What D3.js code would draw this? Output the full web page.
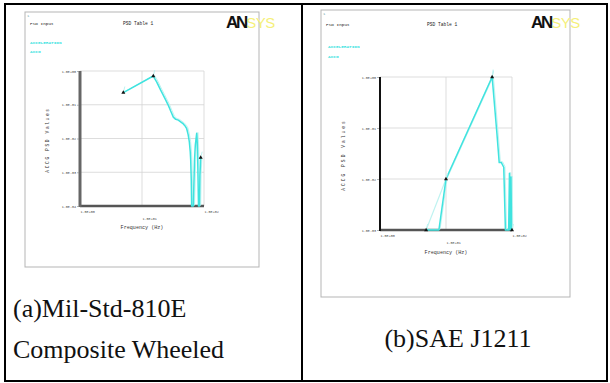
<!DOCTYPE html>
<html>
<head>
<meta charset="utf-8">
<script src="https://cdn.jsdelivr.net/npm/d3@7/dist/d3.min.js"></script>
<style>
  html, body { margin: 0; padding: 0; background: #fff; }
  svg { display: block; }
</style>
</head>
<body>
<svg id="chart" width="610" height="383"></svg>
<script>
// ---------- data ----------
const panelTitleLeft = "PSD Input";
const panelTitleRight = "PSD Table  1";
const legendLines = ["ACCELERATION", "ACCG"];
const xAxisTitle = "Frequency (Hz)";
const yAxisTitle = "ACCG PSD Values";
const xTickValues = [1, 10, 100];
const xTickLabels = ["1.0E+00", "1.0E+01", "1.0E+02"];
const yTickValuesA = [1, 0.1, 0.01, 0.001, 0.0001];
const yTickLabelsA = ["1.0E+00", "1.0E-01", "1.0E-02", "1.0E-03", "1.0E-04"];
const yTickValuesB = [1, 0.1, 0.01, 0.001];
const yTickLabelsB = ["1.0E+00", "1.0E-01", "1.0E-02", "1.0E-03"];
const captionA = ["(a)Mil-Std-810E", "Composite Wheeled"];
const captionB = ["(b)SAE J1211"];

// (a) Mil-Std-810E composite wheeled PSD curve
const milFreq = [5, 15.2, 17.3, 20, 22.1, 24.5, 26.6, 29, 32, 35, 38.5, 42, 46.4, 50, 52.6, 55.5, 58, 60, 61, 62.3, 63.2, 67.2, 69, 70.3, 72.5, 76.2, 77.5, 78.6, 80, 81.5, 84.6, 86, 88.5];
const milPsd  = [0.23, 0.71, 0.47, 0.27, 0.19, 0.13, 0.096, 0.065, 0.043, 0.037, 0.035, 0.031, 0.027, 0.023, 0.0195, 0.013, 0.0079, 0.004, 0.0023, 0.0006, 0.0001, 0.0001, 0.0006, 0.0023, 0.0065, 0.0143, 0.009, 0.0046, 0.0008, 0.0001, 0.0001, 0.0008, 0.0027];
const milMarkFreq = [5, 15.2, 88.5];
const milMarkPsd  = [0.23, 0.71, 0.0027];

// (b) SAE J1211 PSD curve
const saeFreq = [5, 7.8, 10, 50, 59, 64, 69, 75, 79.5, 89, 91.5, 93.5, 96.5, 98.5, 100];
const saePsd  = [0.001, 0.001, 0.01, 1.0, 0.08, 0.021, 0.021, 0.017, 0.001, 0.001, 0.013, 0.001, 0.011, 0.001, 0.001];
const saePaleFreq = [5, 10, 50, 52];
const saePalePsd  = [0.001, 0.01, 1.0, 1.4];
const saeMarkFreq = [5, 10, 50, 100];
const saeMarkPsd  = [0.001, 0.01, 1.0, 0.001];

// ---------- drawing ----------
const svg = d3.select("#chart");
const MONO = "'Liberation Mono', 'DejaVu Sans Mono', monospace";
const CYAN = "#3fe3df";
const PALE = "#bff3f1";

// table frame
svg.append("rect").attr("x", 5).attr("y", 4).attr("width", 602).attr("height", 377)
  .attr("fill", "none").attr("stroke", "#000").attr("stroke-width", 2);
svg.append("line").attr("x1", 302).attr("x2", 302).attr("y1", 4).attr("y2", 381)
  .attr("stroke", "#000").attr("stroke-width", 2);

function zip(a, b) { return a.map((d, i) => [d, b[i]]); }

function panel(cfg) {
  const g = svg.append("g");
  // image box
  g.append("rect").attr("x", cfg.box[0]).attr("y", cfg.box[1])
    .attr("width", cfg.box[2]).attr("height", cfg.box[3])
    .attr("fill", "#fff").attr("stroke", "#b5b5b5").attr("stroke-width", 1);

  g.append("text").attr("x", cfg.box[0] + 2).attr("y", cfg.box[1] + 5)
    .attr("font-family", MONO).attr("font-size", 4).attr("fill", "#7aa").text("1");
  g.append("text").attr("x", cfg.titleL[0]).attr("y", cfg.titleL[1])
    .attr("font-family", MONO).attr("font-size", 4.4).attr("fill", "#222").text(panelTitleLeft);
  g.append("text").attr("x", cfg.titleR[0]).attr("y", cfg.titleR[1])
    .attr("font-family", MONO).attr("font-size", 4.6).attr("fill", "#222").text(panelTitleRight);
  legendLines.forEach((t, i) => {
    g.append("text").attr("x", cfg.legend[0]).attr("y", cfg.legend[1] + i * cfg.legend[2])
      .attr("font-family", MONO).attr("font-size", 4.4).attr("font-weight", "bold")
      .attr("fill", CYAN).text(t);
  });
  // ANSYS logo
  const lg = g.append("text").attr("x", cfg.logo[0]).attr("y", cfg.logo[1])
    .attr("font-family", "'Liberation Sans', Arial, sans-serif").attr("font-weight", "bold")
    .attr("font-size", 17);
  lg.append("tspan").attr("fill", "#111").attr("letter-spacing", -2.2).text("AN");
  lg.append("tspan").attr("fill", "#f5f07a").attr("font-weight", "normal").attr("font-size", 15)
    .attr("letter-spacing", -0.5).text("SYS");

  const [px, py, pw, ph] = cfg.plot;
  const x = d3.scaleLog().domain([1, 100]).range([px, px + pw]);
  const y = d3.scaleLog().domain(cfg.yDomain).range([py + ph, py]);

  // grid + frame
  g.selectAll(".gy").data(cfg.yTicks).enter().append("line")
    .attr("x1", px).attr("x2", px + pw).attr("y1", d => y(d)).attr("y2", d => y(d))
    .attr("stroke", "#d4d4d4").attr("stroke-width", 0.8);
  g.selectAll(".gx").data(xTickValues).enter().append("line")
    .attr("x1", d => x(d)).attr("x2", d => x(d)).attr("y1", py).attr("y2", py + ph)
    .attr("stroke", "#d4d4d4").attr("stroke-width", 0.8);

  // axes lines
  g.append("line").attr("x1", px).attr("x2", px + pw).attr("y1", py + ph).attr("y2", py + ph)
    .attr("stroke", "#555").attr("stroke-width", 2.5);
  g.append("line").attr("x1", px).attr("x2", px).attr("y1", py).attr("y2", py + ph + 1)
    .attr("stroke", cfg.leftAxisColor).attr("stroke-width", cfg.leftAxisWidth);

  // y tick labels via d3 axis
  const yAxis = d3.axisLeft(y).tickValues(cfg.yTicks).tickSize(2)
    .tickFormat((d, i) => cfg.yLabels[i]);
  const ya = g.append("g").attr("transform", `translate(${px - 1},0)`).call(yAxis);
  ya.select(".domain").remove();
  ya.selectAll("line").attr("stroke", "#888").attr("stroke-width", 0.6);
  ya.selectAll("text").attr("font-family", MONO).attr("font-size", 3.4).attr("fill", "#444").attr("x", -3);

  // x tick labels via d3 axis
  const xAxis = d3.axisBottom(x).tickValues(xTickValues).tickSize(0)
    .tickFormat((d, i) => xTickLabels[i]);
  const xa = g.append("g").attr("transform", `translate(0,${py + ph})`).call(xAxis);
  xa.select(".domain").remove();
  xa.selectAll("text").attr("font-family", MONO).attr("font-size", 3.4).attr("fill", "#444")
    .attr("text-anchor", "start").attr("dy", null)
    .attr("y", (d, i) => i === 1 ? 14 : 7);

  g.append("text").attr("x", px + pw * 0.5).attr("y", py + ph + cfg.xTitleDy)
    .attr("text-anchor", "middle").attr("font-family", MONO).attr("font-size", 5.1)
    .attr("fill", "#333").text(xAxisTitle);
  g.append("text").attr("transform", `translate(${cfg.yTitle[0]},${cfg.yTitle[1]}) rotate(-90)`)
    .attr("text-anchor", "middle").attr("font-family", MONO).attr("font-size", 4.6)
    .attr("letter-spacing", cfg.yTitle[2]).attr("fill", "#333").text(yAxisTitle);

  const line = d3.line().x(d => x(d[0])).y(d => y(d[1]));
  if (cfg.pale) {
    g.append("path").datum(cfg.pale).attr("d", line).attr("fill", "none")
      .attr("stroke", PALE).attr("stroke-width", 1.2);
  }
  g.append("path").datum(cfg.series).attr("d", line).attr("fill", "none")
    .attr("stroke", PALE).attr("stroke-width", 1).attr("transform", "translate(1.2,-0.8)");
  g.append("path").datum(cfg.series).attr("d", line).attr("fill", "none")
    .attr("stroke", CYAN).attr("stroke-width", 1.5).attr("stroke-linejoin", "round");

  const tri = d3.symbol().type(d3.symbolTriangle).size(7);
  cfg.marks.forEach(d => {
    g.append("line").attr("x1", x(d[0])).attr("y1", y(d[1]))
      .attr("x2", x(d[0]) + 1.5).attr("y2", y(d[1]) - 6)
      .attr("stroke", PALE).attr("stroke-width", 1);
    g.append("path").attr("d", tri).attr("transform", `translate(${x(d[0])},${y(d[1])})`)
      .attr("fill", "#111");
  });
}

panel({
  box: [25, 12, 234, 255],
  titleL: [30, 25], titleR: [123, 25],
  legend: [30, 44, 9],
  logo: [226, 28],
  plot: [80, 71, 124, 135],
  yDomain: [0.0001, 1],
  yTicks: yTickValuesA, yLabels: yTickLabelsA,
  leftAxisColor: "#666", leftAxisWidth: 3,
  xTitleDy: 23,
  yTitle: [49, 140, 1.6],
  series: zip(milFreq, milPsd),
  marks: zip(milMarkFreq, milMarkPsd)
});

panel({
  box: [321, 10, 249, 287],
  titleL: [326, 26], titleR: [427, 26],
  legend: [328, 48, 10],
  logo: [531, 28],
  plot: [380, 77, 132, 153],
  yDomain: [0.001, 1],
  yTicks: yTickValuesB, yLabels: yTickLabelsB,
  leftAxisColor: "#111", leftAxisWidth: 2,
  xTitleDy: 24,
  yTitle: [345, 155, 2.0],
  series: zip(saeFreq, saePsd),
  pale: zip(saePaleFreq, saePalePsd),
  marks: zip(saeMarkFreq, saeMarkPsd)
});

// captions
const cap = svg.append("g").attr("font-family", "'Liberation Serif', 'Times New Roman', serif")
  .attr("font-size", 26).attr("fill", "#111");
captionA.forEach((t, i) => cap.append("text").attr("x", 13).attr("y", 317 + i * 41).text(t));
captionB.forEach(t => cap.append("text").attr("x", 458).attr("y", 347).attr("text-anchor", "middle").text(t));
</script>
</body>
</html>
